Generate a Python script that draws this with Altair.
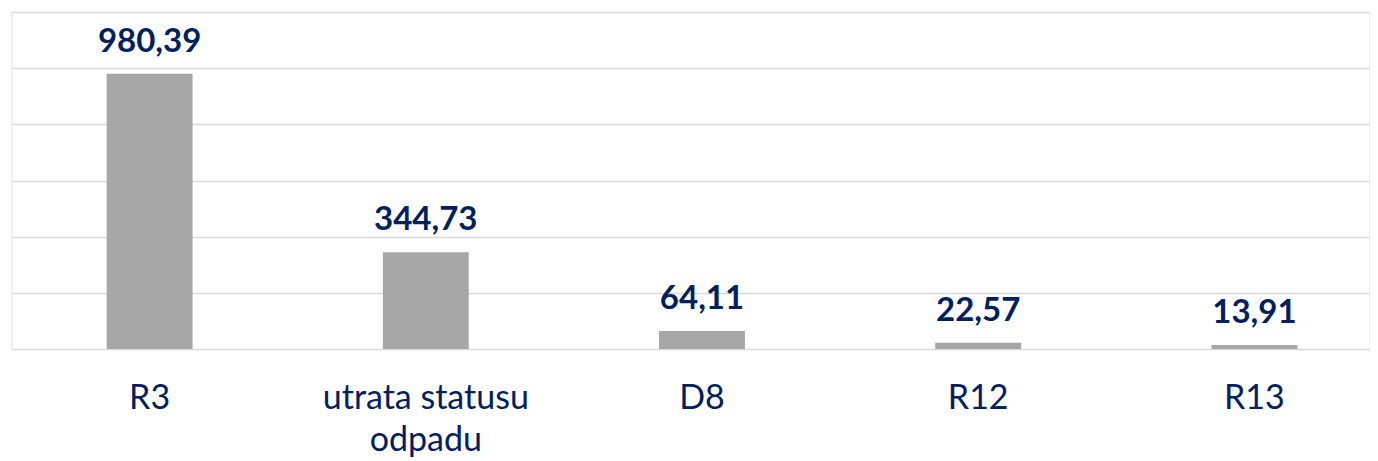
import altair as alt
import pandas as pd

categories = ["R3", "utrata statusu|odpadu", "D8", "R12", "R13"]
values = [980.39, 344.73, 64.11, 22.57, 13.91]
value_labels = ["980,39", "344,73", "64,11", "22,57", "13,91"]
grid_values = [0, 200, 400, 600, 800, 1000, 1200]

df = pd.DataFrame({"cat": categories, "val": values, "lbl": value_labels})

NAVY = "#002060"
FONT = "Lato"

x_enc = alt.X(
    "cat:N",
    sort=categories,
    title=None,
    scale=alt.Scale(range=[0, 1381], paddingInner=0.689, paddingOuter=0.3445),
    axis=alt.Axis(
        domain=False,
        ticks=False,
        labelAngle=0,
        labelFont=FONT,
        labelFontSize=34,
        labelColor=NAVY,
        labelPadding=32,
        labelLineHeight=42,
        labelLimit=500,
        labelExpr="split(datum.label, '|')",
        labelBaseline="top",
    ),
)

y_enc = alt.Y(
    "val:Q",
    title=None,
    scale=alt.Scale(domain=[0, 1200], nice=False),
    axis=alt.Axis(
        values=grid_values,
        domain=False,
        ticks=False,
        labels=False,
        grid=True,
        gridColor="#d9d9d9",
        gridWidth=1.5,
    ),
)

bars = alt.Chart(df).mark_bar(color="#a6a6a6").encode(x=x_enc, y=y_enc)

text = alt.Chart(df).mark_text(
    font=FONT,
    fontSize=33,
    fontWeight="bold",
    color=NAVY,
    baseline="alphabetic",
    align="center",
    dy=-22,
).encode(x=alt.X("cat:N", sort=categories), y=alt.Y("val:Q"), text="lbl:N")

chart = (
    alt.layer(bars, text)
    .properties(
        width=1358,
        height=337,
        autosize=alt.AutoSizeParams(type="none"),
        padding={"left": 3.5, "top": 4, "right": 0, "bottom": 110},
    )
    .configure_view(strokeWidth=0)
    .configure(background="white")
)

chart.save("out.html", embed_options={"renderer": "svg", "actions": False})
